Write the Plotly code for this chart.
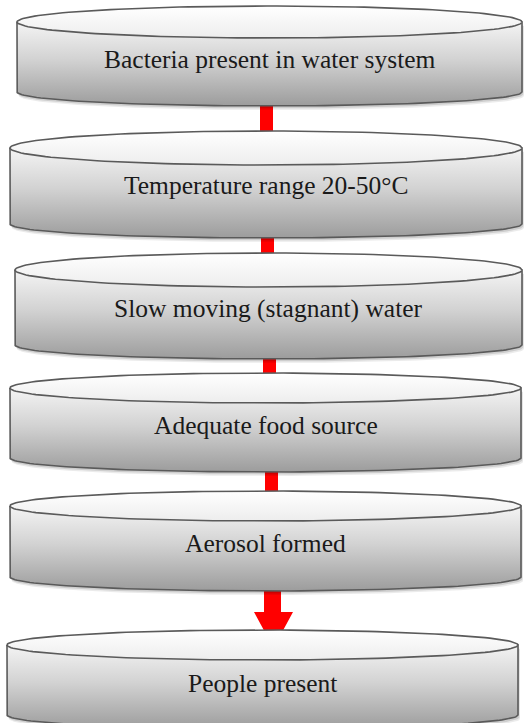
import numpy as np
import plotly.graph_objects as go

# ---- content ----
steps = [
    "Bacteria present in water system",
    "Temperature range 20-50°C",
    "Slow moving (stagnant) water",
    "Adequate food source",
    "Aerosol formed",
    "People present",
]

# ---- geometry (pixel coordinates) ----
x_left = [17, 10, 15, 10, 10, 7]
x_right = [522, 522, 522, 521, 521, 518]
y_top = [6, 131, 253, 373, 491, 630]        # top of upper ellipse
y_rim = [22, 148, 270, 388, 506, 645]       # centre of upper ellipse
y_base = [92, 224, 345, 458, 577, 715]      # side wall bottom corner
y_text = [59, 185, 308, 425, 543, 683]
base_ry = 14

W, H = 526, 723
fig = go.Figure()


def poly(xs, ys, **kw):
    fig.add_trace(go.Scatter(x=list(xs) + [xs[0]], y=list(ys) + [ys[0]],
                             mode="lines", fill="toself", hoverinfo="skip",
                             showlegend=False, **kw))


# connectors (drawn first, beneath the cylinders)
red = "#ff0000"
conn_w = [(260, 273), (261, 274), (263, 276), (265, 278)]
for i in range(4):
    a, b = conn_w[i]
    y0 = y_base[i] + 5
    y1 = y_top[i + 1] + 8
    poly([a, b, b, a], [y0, y0, y1, y1], line=dict(width=0, color=red), fillcolor=red)

# big arrow between 5 and 6
sx0, sx1 = 264, 281
sy0, sy1 = y_base[4] + 5, 612
hx0, hx1, tip = 254, 293, 648
poly([sx0, sx1, sx1, hx1, (hx0 + hx1) / 2, hx0, sx0],
     [sy0, sy0, sy1, sy1, tip, sy1, sy1],
     line=dict(width=0, color=red), fillcolor=red)

t_bottom = np.linspace(np.pi, 0, 80)
t_full = np.linspace(0, 2 * np.pi, 160)

for i, label in enumerate(steps):
    x0, x1 = x_left[i], x_right[i]
    cx = (x0 + x1) / 2
    rx = (x1 - x0) / 2
    ry = y_rim[i] - y_top[i]
    ya, yb = y_rim[i], y_base[i]

    # soft shadow
    for off, alpha in [(4, 0.08), (2.5, 0.12)]:
        bx = cx + rx * np.cos(t_bottom)
        by = yb + off + base_ry * np.sin(t_bottom)
        xs = [x0 + off / 2] + list(bx + off / 2) + [x1 + off / 2]
        ys = [ya + off] + list(by) + [ya + off]
        poly(xs, ys, line=dict(width=0), fillcolor=f"rgba(0,0,0,{alpha})")

    # side wall with vertical gradient
    bx = cx - rx * np.cos(np.linspace(0, np.pi, 80))
    by = yb + base_ry * np.sin(np.linspace(0, np.pi, 80))
    xs = [x0] + list(bx) + [x1]
    ys = [ya] + list(by) + [ya]
    fig.add_trace(go.Scatter(
        x=xs + [xs[0]], y=ys + [ys[0]], mode="lines", fill="toself",
        line=dict(color="#5a5a5a", width=1.6), hoverinfo="skip", showlegend=False,
        fillgradient=dict(type="vertical", start=ya, stop=yb + base_ry,
                          colorscale=[[0, "#f4f4f4"], [0.45, "#d2d2d2"], [1, "#9c9c9c"]]),
    ))

    # top ellipse
    ex = cx + rx * np.cos(t_full)
    ey = ya + ry * np.sin(t_full)
    fig.add_trace(go.Scatter(
        x=list(ex), y=list(ey), mode="lines", fill="toself",
        line=dict(color="#5a5a5a", width=1.6), hoverinfo="skip", showlegend=False,
        fillgradient=dict(type="vertical", start=ya - ry, stop=ya + ry,
                          colorscale=[[0, "#ffffff"], [1, "#ededed"]]),
    ))

    fig.add_annotation(x=cx, y=y_text[i], text=label, showarrow=False,
                       font=dict(family="Liberation Serif", size=25.5, color="#1a1a1a"),
                       xanchor="center", yanchor="middle")

fig.update_layout(
    width=W, height=H, margin=dict(l=0, r=0, t=0, b=0),
    paper_bgcolor="white", plot_bgcolor="white",
    xaxis=dict(range=[0, W], visible=False, fixedrange=True),
    yaxis=dict(range=[H, 0], visible=False, fixedrange=True),
    showlegend=False,
)
fig.write_html("out.html", config={"displayModeBar": False},
               post_script="document.body.style.margin='0';document.body.style.overflow='hidden';")
